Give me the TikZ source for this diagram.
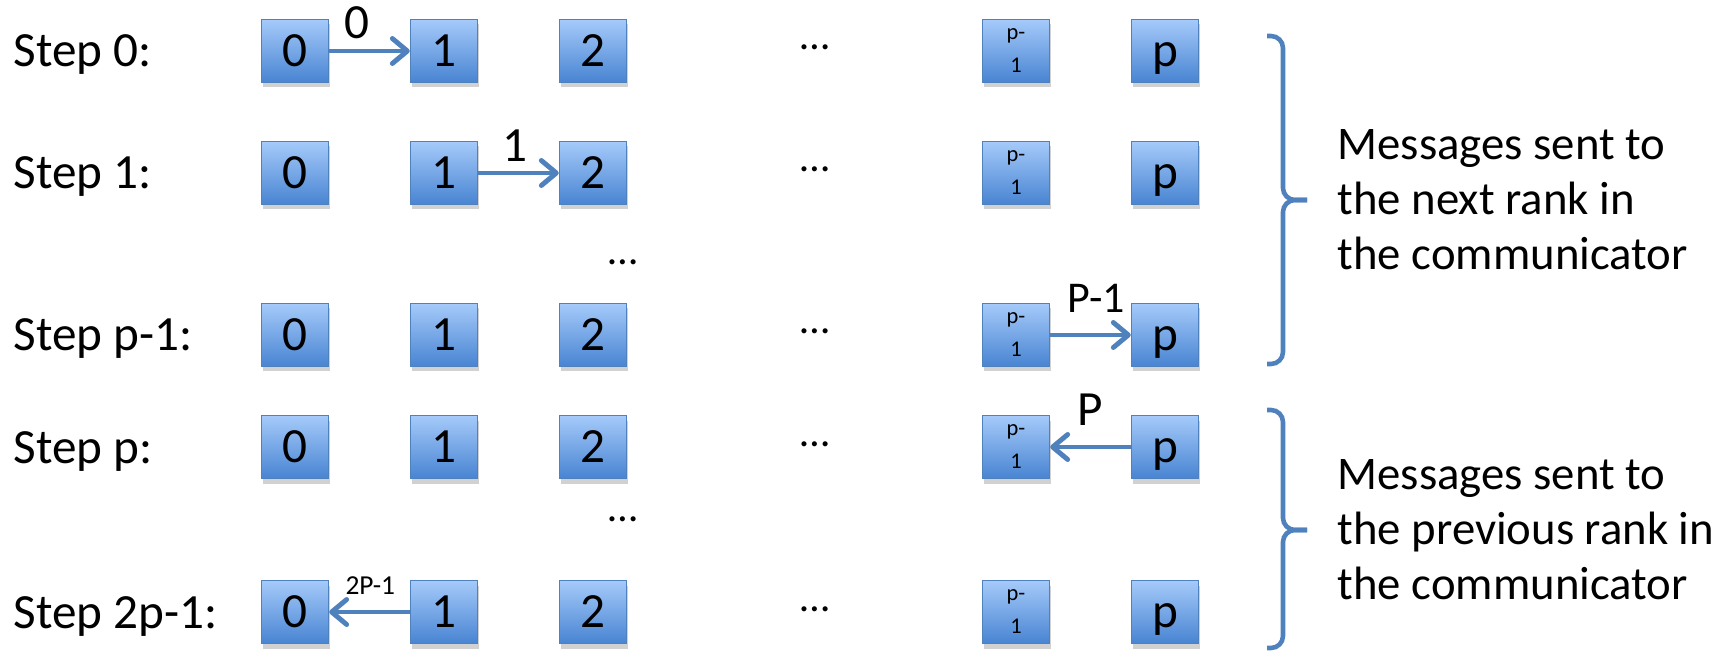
\documentclass[tikz,border=0pt]{standalone}
\usepackage{fontspec}
\setmainfont{Carlito}
\usetikzlibrary{arrows.meta,shadows}

\definecolor{rankline}{RGB}{79,129,189}
\definecolor{ranktop}{RGB}{165,202,250}
\definecolor{rankbottom}{RGB}{72,132,210}
\definecolor{sendblue}{RGB}{79,129,189}

\tikzset{
  rankbox/.style={draw=rankline, line width=0.4pt, top color=ranktop, bottom color=rankbottom,
    minimum width=6.7mm, minimum height=6.3mm, inner sep=0pt,
    drop shadow={shadow xshift=0.15mm, shadow yshift=-0.5mm, opacity=0.3, fill=black!60}},
  bigrank/.style={rankbox, font=\fontsize{14}{16}\selectfont, text height=8.9pt, text depth=0pt},
  smallrank/.style={rankbox, font=\fontsize{6.4}{9.4}\selectfont, align=center},
  steplabel/.style={anchor=base west, inner sep=0pt, font=\fontsize{14}{16}\selectfont},
  skipdots/.style={anchor=base, inner sep=0pt, font=\fontsize{12}{14}\selectfont},
  sendarrow/.style={draw=sendblue, line width=1.4pt,
    -{Straight Barb[length=1.5mm, width=2.5mm, line cap=round, line join=round]}},
  sendlabel/.style={inner sep=0pt, font=\fontsize{14}{16}\selectfont},
  bracket/.style={draw=sendblue, line width=1.3pt, rounded corners=1.2mm},
  msgtext/.style={anchor=west, align=left, inner sep=0pt, font=\fontsize{13.3}{15.65}\selectfont}
}

\begin{document}
\begin{tikzpicture}[x=0.1mm, y=-0.1mm]
\useasboundingbox (0,0) rectangle (1730,652);

% one row of ranks per step
\foreach \y/\r/\s in {51/a/0, 173/b/1, 335/c/p-1, 447/d/p, 612/e/2p-1}{
	\node[steplabel] (s\r) at (13,\y+16) {Step \s:};
	\node[bigrank] (\r0) at (295,\y) {0};
	\node[bigrank] (\r1) at (444,\y) {1};
	\node[bigrank] (\r2) at (593,\y) {2};
	\node[skipdots] (\r dots) at (815,\y-1) {…};
	\node[smallrank] (\r pm) at (1016,\y) {p-\\1};
	\node[bigrank] (\r p) at (1165,\y) {p};
	}
\node[skipdots] (gap1) at (623,265) {…};
\node[skipdots] (gap2) at (623,521) {…};

% messages
\draw[sendarrow] (a0) -- node[sendlabel, pos=.35, above=1mm] (m0) {0} (a1);
\draw[sendarrow] (b1) -- node[sendlabel, pos=.45, above=0.9mm] (m1) {1} (b2);
\draw[sendarrow] (cpm) -- node[sendlabel, pos=.57, above=2mm, font=\fontsize{12.5}{14}\selectfont] (m2) {P-1} (cp);
\draw[sendarrow] (dp) -- node[sendlabel, pos=.5, above=1.9mm] (m3) {P} (dpm);
\draw[sendarrow] (e1) -- node[sendlabel, pos=.49, above=1.5mm, font=\fontsize{7.8}{9}\selectfont] (m4) {2P-1} (e0);

% brackets
\draw[bracket] (1267,36) -| (1283,200) -- (1307,200);
\draw[bracket] (1307,200) -- (1283,200) |- (1267,364);
\draw[bracket] (1267,410) -| (1283,530) -- (1307,530);
\draw[bracket] (1307,530) -- (1283,530) |- (1267,648);
\node[msgtext] (next) at (1337,200) {Messages sent to\\the next rank in\\the communicator};
\node[msgtext] (prev) at (1337,530) {Messages sent to\\the previous rank in\\the communicator};
\end{tikzpicture}
\end{document}
